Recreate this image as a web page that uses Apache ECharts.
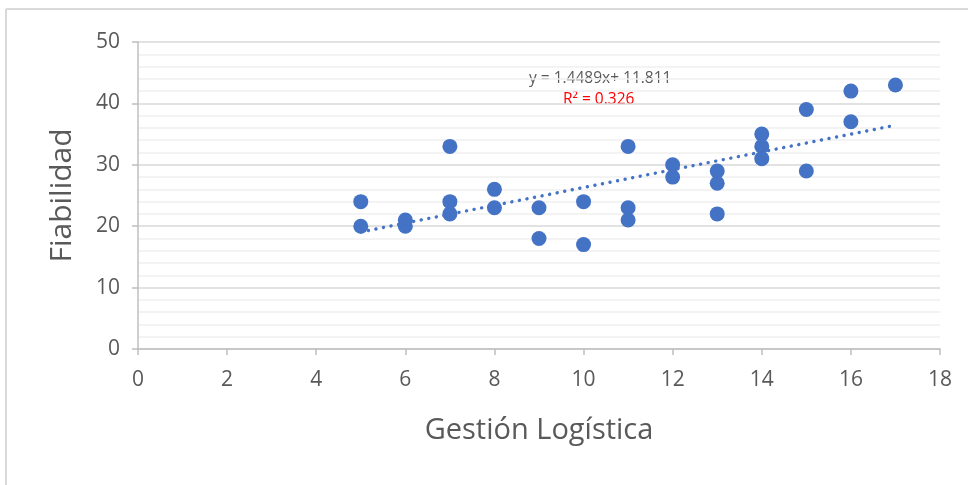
<!DOCTYPE html>
<html><head><meta charset="utf-8">
<script src="https://cdn.jsdelivr.net/npm/echarts@6/dist/echarts.min.js"></script>
<style>html,body{margin:0;padding:0;background:#fff}#c{width:968px;height:485px}</style>
</head><body><div id="c"></div>
<script>
// Gestión Logística (x) vs Fiabilidad (y)
const gestionLogistica = [5,5,6,6,7,7,7,8,8,9,9,10,10,11,11,11,12,12,13,13,13,14,14,14,15,15,16,16,17];
const fiabilidad       = [24,20,21,20,33,24,22,26,23,23,18,24,17,33,23,21,30,28,29,27,22,35,33,31,39,29,42,37,43];
const trendSlope = 1.4489;
const trendIntercept = 11.811;
const trendXRange = [5, 17];
const equationText = 'y = 1.4489x+ 11.811';
const r2Text = 'R² = 0.326';
const xTitle = 'Gestión Logística';
const yTitle = 'Fiabilidad';

const points = gestionLogistica.map((x,i)=>[x, fiabilidad[i]]);
const trend = trendXRange.map(x=>[x, trendSlope*x + trendIntercept]);

const chart = echarts.init(document.getElementById('c'), null, {renderer:'canvas'});
const font = 'Open Sans';
chart.setOption({
  animation:false,
  backgroundColor:'#fff',
  grid:{left:138, right:28, top:42, bottom:136},
  xAxis:{
    type:'value', min:0, max:18, interval:2,
    name:xTitle, nameLocation:'middle', nameGap:67,
    nameTextStyle:{fontFamily:font, fontSize:29, color:'#595959'},
    axisLine:{show:true, lineStyle:{color:'#bfbfbf', width:1.5}},
    axisTick:{show:true, length:6, inside:false, lineStyle:{color:'#bfbfbf', width:1.5}},
    axisLabel:{fontFamily:font, fontSize:21, color:'#595959', margin:21},
    splitLine:{show:false}
  },
  yAxis:{
    type:'value', min:0, max:50, interval:10,
    name:yTitle, nameLocation:'middle', nameGap:61, nameRotate:90,
    nameTextStyle:{fontFamily:font, fontSize:30, color:'#595959'},
    axisLine:{show:true, lineStyle:{color:'#bfbfbf', width:1.5}},
    axisTick:{show:true, length:6, inside:false, lineStyle:{color:'#bfbfbf', width:1.5}},
    axisLabel:{fontFamily:font, fontSize:21, color:'#595959', margin:18},
    splitLine:{show:true, lineStyle:{color:'#d9d9d9', width:1.5}},
    minorTick:{show:false, splitNumber:5},
    minorSplitLine:{show:true, lineStyle:{color:'#efefef', width:1.5}}
  },
  series:[
    {
      type:'line', data:trend, showSymbol:false, symbol:'none', z:3,
      lineStyle:{color:'#4472c4', width:3.4, type:[0.1,7.6], cap:'round'}
    },
    {
      type:'scatter', data:points, symbolSize:15, z:4,
      itemStyle:{color:'#4472c4', opacity:1}
    }
  ],
  graphic:[
    {type:'line', shape:{x1:6, y1:9, x2:968, y2:9}, style:{stroke:'#d9d9d9', lineWidth:2}},
    {type:'line', shape:{x1:6, y1:9, x2:6, y2:485}, style:{stroke:'#d9d9d9', lineWidth:2}},
    {type:'text', left:529, top:71, style:{text:equationText, fontFamily:font, fontSize:15.5, fill:'#595959'}},
    {type:'text', left:563, top:92, style:{text:r2Text, fontFamily:font, fontSize:15.5, fill:'#ff0000'}}
  ]
});
</script></body></html>
